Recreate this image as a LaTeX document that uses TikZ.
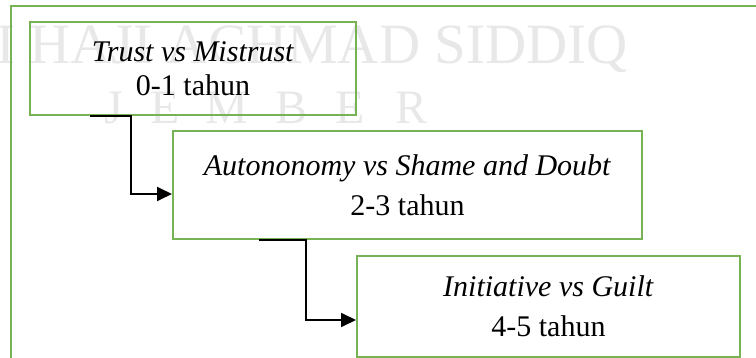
\documentclass[tikz,border=0pt]{standalone}
\usepackage{fontspec}
\setmainfont{Liberation Serif}
\usetikzlibrary{arrows.meta, positioning, calc}
\definecolor{stagegreen}{HTML}{77B255}
\tikzset{
stage/.style = {rectangle, draw = stagegreen, line width = 2pt, inner sep = 0pt, align = center, font = \fontsize{30}{40}\selectfont},
flow/.style = {draw = black, line width = 1.8pt, -{Triangle[length = 15pt, width = 14pt]}},
watermark/.style = {text = black!9, inner sep = 0pt, font = \fontsize{57}{60}\selectfont},
}

\begin{document}
\begin{tikzpicture}[x = 1pt, y = -1pt]
    \useasboundingbox (0, 0) rectangle (756, 358);
    \clip (0, 0) rectangle (756, 358);
    % watermark
    \node[watermark, anchor = base east] (wm name) at (628, 64) {KIAI HAJI ACHMAD SIDDIQ};
    \foreach \letter/\xpos [count = \i] in {J/104, E/150, M/205, B/275, E/335, R/395}
        \node[watermark, anchor = base west, font = \fontsize{48}{50}\selectfont] (wm city \i) at (\xpos, 124) {\letter};
    % frame
    \draw[stagegreen, line width = 2pt] (11, 6) rectangle (780, 380);
    % stages
    \node[stage, minimum width = 326pt, minimum height = 93pt, font = \fontsize{30}{34}\selectfont] (trust) at (193, 68.5) {\textit{Trust vs Mistrust}\\0-1 tahun};
    \node[stage, minimum width = 469pt, minimum height = 108pt] (autonomy) at (407.5, 185) {\textit{Autononomy vs Shame and Doubt}\\2-3 tahun};
    \node[stage, minimum width = 383pt, minimum height = 101pt] (initiative) at (548.5, 306.5) {\textit{Initiative vs Guilt}\\4-5 tahun};
    % connectors
    \draw[flow] ($(trust.south west) + (61, 0)$) -- ++(41, 0) |- ($(autonomy.west) + (0, 9)$);
    \draw[flow] ($(autonomy.south west) + (87, 0)$) -- ++(47, 0) |- ($(initiative.west) + (0, 13.5)$);
\end{tikzpicture}
\end{document}
